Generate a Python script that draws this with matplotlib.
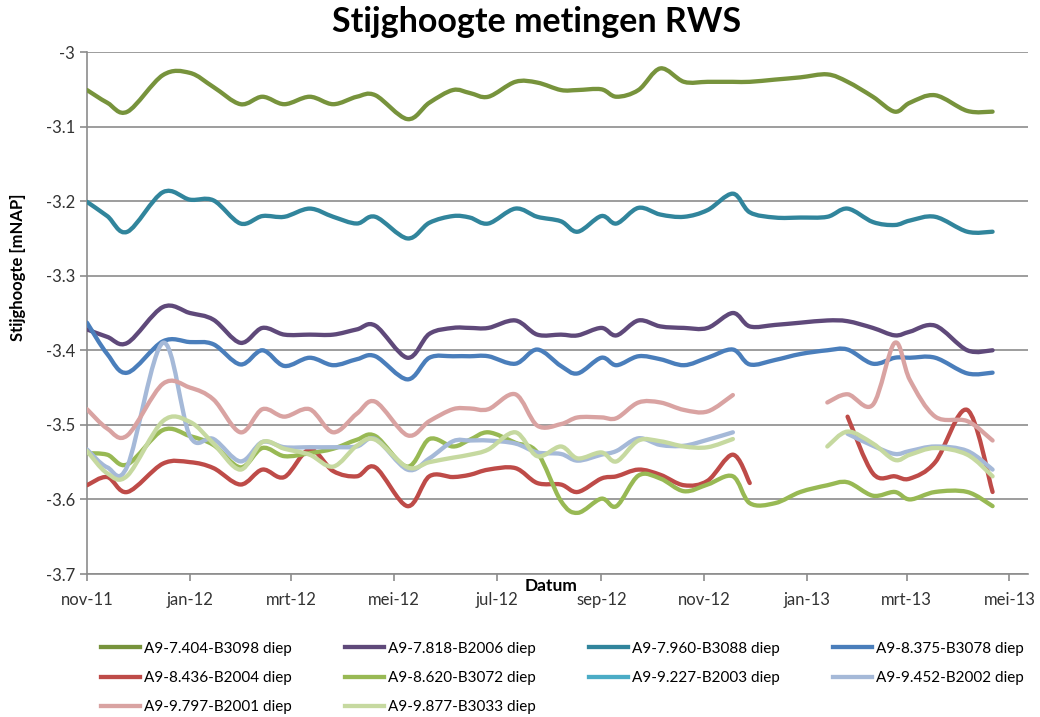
import numpy as np
import pandas as pd
import matplotlib
matplotlib.use('Agg')
import matplotlib.pyplot as plt
import matplotlib.dates as mdates
from matplotlib.path import Path
from matplotlib.patches import PathPatch
from matplotlib.lines import Line2D
from matplotlib.ticker import FuncFormatter, MultipleLocator

plt.rcParams['font.family'] = ['Lato', 'DejaVu Sans']

# measurement dates (shared by all filters)
dates = pd.to_datetime([
    '2011-11-01', '2011-11-13', '2011-11-25', '2011-12-16', '2012-01-01',
    '2012-01-15', '2012-01-31', '2012-02-13', '2012-02-26', '2012-03-12',
    '2012-03-26', '2012-04-09', '2012-04-20', '2012-05-09', '2012-05-22',
    '2012-06-05', '2012-06-15', '2012-06-26', '2012-07-12', '2012-07-25',
    '2012-08-08', '2012-08-18', '2012-09-01', '2012-09-10', '2012-09-23',
    '2012-10-06', '2012-10-20', '2012-11-03', '2012-11-18', '2012-11-28',
    '2012-12-13', '2012-12-28', '2013-01-13', '2013-01-25', '2013-02-09',
    '2013-02-22', '2013-03-03', '2013-03-18', '2013-04-06', '2013-04-21'])

nan = np.nan
a9_7404_b3098 = [-3.051, -3.068, -3.080, -3.031, -3.028, -3.047, -3.070, -3.060, -3.070, -3.060,
                 -3.070, -3.060, -3.058, -3.090, -3.068, -3.051, -3.055, -3.060, -3.040, -3.041,
                 -3.051, -3.051, -3.050, -3.060, -3.051, -3.022, -3.040, -3.040, -3.040, -3.040,
                 -3.037, -3.034, -3.030, -3.040, -3.060, -3.080, -3.068, -3.058, -3.079, -3.080]
a9_7818_b2006 = [-3.372, -3.382, -3.390, -3.342, -3.350, -3.359, -3.390, -3.370, -3.379, -3.379,
                 -3.379, -3.372, -3.367, -3.410, -3.378, -3.370, -3.370, -3.370, -3.360, -3.379,
                 -3.379, -3.380, -3.370, -3.380, -3.360, -3.368, -3.370, -3.370, -3.350, -3.368,
                 -3.366, -3.363, -3.360, -3.361, -3.370, -3.380, -3.375, -3.367, -3.400, -3.400]
a9_7960_b3088 = [-3.201, -3.220, -3.241, -3.188, -3.198, -3.199, -3.230, -3.220, -3.221, -3.210,
                 -3.221, -3.230, -3.221, -3.250, -3.229, -3.220, -3.222, -3.230, -3.210, -3.221,
                 -3.227, -3.241, -3.220, -3.230, -3.209, -3.218, -3.221, -3.212, -3.190, -3.215,
                 -3.222, -3.222, -3.221, -3.210, -3.228, -3.232, -3.226, -3.221, -3.241, -3.241]
a9_8375_b3078 = [-3.363, -3.405, -3.430, -3.388, -3.389, -3.392, -3.419, -3.400, -3.421, -3.410,
                 -3.420, -3.412, -3.408, -3.439, -3.410, -3.408, -3.408, -3.408, -3.418, -3.399,
                 -3.421, -3.431, -3.410, -3.420, -3.408, -3.412, -3.420, -3.410, -3.399, -3.419,
                 -3.413, -3.405, -3.400, -3.399, -3.418, -3.410, -3.410, -3.410, -3.431, -3.430]
a9_8436_b2004 = [-3.581, -3.570, -3.590, -3.552, -3.550, -3.558, -3.580, -3.560, -3.570, -3.533,
                 -3.562, -3.569, -3.557, -3.609, -3.569, -3.570, -3.567, -3.560, -3.558, -3.578,
                 -3.580, -3.590, -3.572, -3.569, -3.560, -3.567, -3.581, -3.575, -3.540, -3.578,
                 nan, nan, nan, -3.489, -3.565, -3.569, -3.572, -3.550, -3.480, -3.590]
a9_8620_b3072 = [-3.538, -3.540, -3.553, -3.507, -3.515, -3.527, -3.557, -3.531, -3.542, -3.538,
                 -3.532, -3.520, -3.515, -3.556, -3.519, -3.529, -3.520, -3.510, -3.524, -3.537,
                 -3.602, -3.618, -3.599, -3.609, -3.568, -3.572, -3.589, -3.580, -3.569, -3.605,
                 -3.605, -3.590, -3.581, -3.577, -3.595, -3.590, -3.600, -3.590, -3.590, -3.609]
a9_9227_b2003 = [nan] * 40
a9_9452_b2002 = [-3.533, -3.557, -3.555, -3.390, -3.515, -3.519, -3.549, -3.523, -3.530, -3.530,
                 -3.530, -3.529, -3.519, -3.560, -3.545, -3.522, -3.521, -3.521, -3.525, -3.537,
                 -3.539, -3.548, -3.540, -3.535, -3.518, -3.527, -3.528, -3.520, -3.510, nan,
                 nan, nan, nan, -3.512, -3.528, -3.539, -3.535, -3.529, -3.535, -3.560]
a9_9797_b2001 = [-3.479, -3.505, -3.514, -3.445, -3.450, -3.466, -3.510, -3.479, -3.489, -3.479,
                 -3.510, -3.485, -3.469, -3.514, -3.495, -3.479, -3.478, -3.479, -3.459, -3.501,
                 -3.499, -3.490, -3.490, -3.491, -3.470, -3.470, -3.480, -3.482, -3.460, nan,
                 nan, nan, -3.470, -3.459, -3.473, -3.390, -3.440, -3.489, -3.495, -3.521]
a9_9877_b3033 = [-3.535, -3.565, -3.568, -3.495, -3.496, -3.525, -3.560, -3.523, -3.532, -3.540,
                 -3.556, -3.528, -3.520, -3.557, -3.550, -3.544, -3.540, -3.533, -3.510, -3.542,
                 -3.529, -3.545, -3.537, -3.549, -3.521, -3.522, -3.529, -3.530, -3.519, nan,
                 nan, nan, -3.529, -3.509, -3.525, -3.547, -3.540, -3.531, -3.540, -3.569]

names = ['A9-7.404-B3098 diep', 'A9-7.818-B2006 diep', 'A9-7.960-B3088 diep', 'A9-8.375-B3078 diep',
         'A9-8.436-B2004 diep', 'A9-8.620-B3072 diep', 'A9-9.227-B2003 diep', 'A9-9.452-B2002 diep',
         'A9-9.797-B2001 diep', 'A9-9.877-B3033 diep']
values = [a9_7404_b3098, a9_7818_b2006, a9_7960_b3088, a9_8375_b3078, a9_8436_b2004,
          a9_8620_b3072, a9_9227_b2003, a9_9452_b2002, a9_9797_b2001, a9_9877_b3033]
colors = ['#77933C', '#5F497A', '#31859C', '#4A7EBB', '#BE4B48',
          '#98B954', '#4BACC6', '#A5B9D8', '#D9A3A2', '#C6D9A0']

maanden = ['jan', 'feb', 'mrt', 'apr', 'mei', 'jun', 'jul', 'aug', 'sep', 'okt', 'nov', 'dec']


def smooth_path(x, y):
    # excel style smoothed line: bezier segments through every point
    n = len(x)
    verts = [(x[0], y[0])]
    codes = [Path.MOVETO]
    for i in range(n - 1):
        p0 = np.array([x[max(i - 1, 0)], y[max(i - 1, 0)]])
        p1 = np.array([x[i], y[i]])
        p2 = np.array([x[i + 1], y[i + 1]])
        p3 = np.array([x[min(i + 2, n - 1)], y[min(i + 2, n - 1)]])
        c1 = p1 + (p2 - p0) / 6
        c2 = p2 - (p3 - p1) / 6
        verts += [tuple(c1), tuple(c2), tuple(p2)]
        codes += [Path.CURVE4] * 3
    return Path(verts, codes)


fig = plt.figure(figsize=(10.4, 7.17), dpi=100)
ax = fig.add_axes([87 / 1040, 143 / 717, 941 / 1040, 522 / 717])

xnum = mdates.date2num(dates)
for vals, col in zip(values, colors):
    vals = np.array(vals, dtype=float)
    ok = ~np.isnan(vals)
    # split into runs without gaps
    idx = np.where(ok)[0]
    if len(idx) == 0:
        continue
    runs = np.split(idx, np.where(np.diff(idx) > 1)[0] + 1)
    for r in runs:
        if len(r) < 2:
            continue
        p = smooth_path(xnum[r], vals[r])
        ax.add_patch(PathPatch(p, facecolor='none', edgecolor=col, lw=3.1,
                               capstyle='round', joinstyle='round', zorder=3))

ax.set_xlim(mdates.date2num(pd.Timestamp('2011-11-01')), mdates.date2num(pd.Timestamp('2013-05-12')))
ax.set_ylim(-3.7, -3.0)
ax.yaxis.set_major_locator(MultipleLocator(0.1))
ax.yaxis.set_major_formatter(FuncFormatter(lambda v, pos: '%g' % round(v, 1)))
ax.xaxis.set_major_locator(mdates.MonthLocator(bymonth=[1, 3, 5, 7, 9, 11]))


def nl_date(v, pos):
    d = mdates.num2date(v)
    return '%s-%02d' % (maanden[d.month - 1], d.year % 100)


ax.xaxis.set_major_formatter(FuncFormatter(nl_date))

ax.yaxis.grid(True, color='#8c8c8c', lw=1.2)
ax.set_axisbelow(True)
for s in ['top', 'right']:
    ax.spines[s].set_visible(False)
for s in ['left', 'bottom']:
    ax.spines[s].set_color('#8c8c8c')
    ax.spines[s].set_linewidth(1.2)
ax.tick_params(axis='both', colors='#8c8c8c', labelcolor='#333333', labelsize=12, length=5, width=1.2)
ax.tick_params(axis='x', pad=8)

fig.text(537 / 1040, 1 - 22 / 717, 'Stijghoogte metingen RWS', ha='center', va='center',
         fontsize=24.5, fontweight='bold')
fig.text(18 / 1040, 1 - 267 / 717, 'Stijghoogte [mNAP]', ha='center', va='center',
         rotation=90, fontsize=12, fontweight='bold')
fig.text(551 / 1040, 1 - 586 / 717, 'Datum', ha='center', va='center', fontsize=12.5, fontweight='bold')

# legend is filled row by row in the original
order = [0, 4, 8, 1, 5, 9, 2, 6, 3, 7]
handles = [Line2D([], [], color=colors[i], lw=3.1) for i in order]
labels = [names[i] for i in order]
fig.legend(handles, labels, ncol=4, loc='upper left', bbox_to_anchor=(87 / 1040, 1 - 628 / 717),
           frameon=False, fontsize=11, handlelength=2.6, handletextpad=0.2,
           columnspacing=3.5, labelspacing=1.0)

fig.savefig('out.png', dpi=100)
